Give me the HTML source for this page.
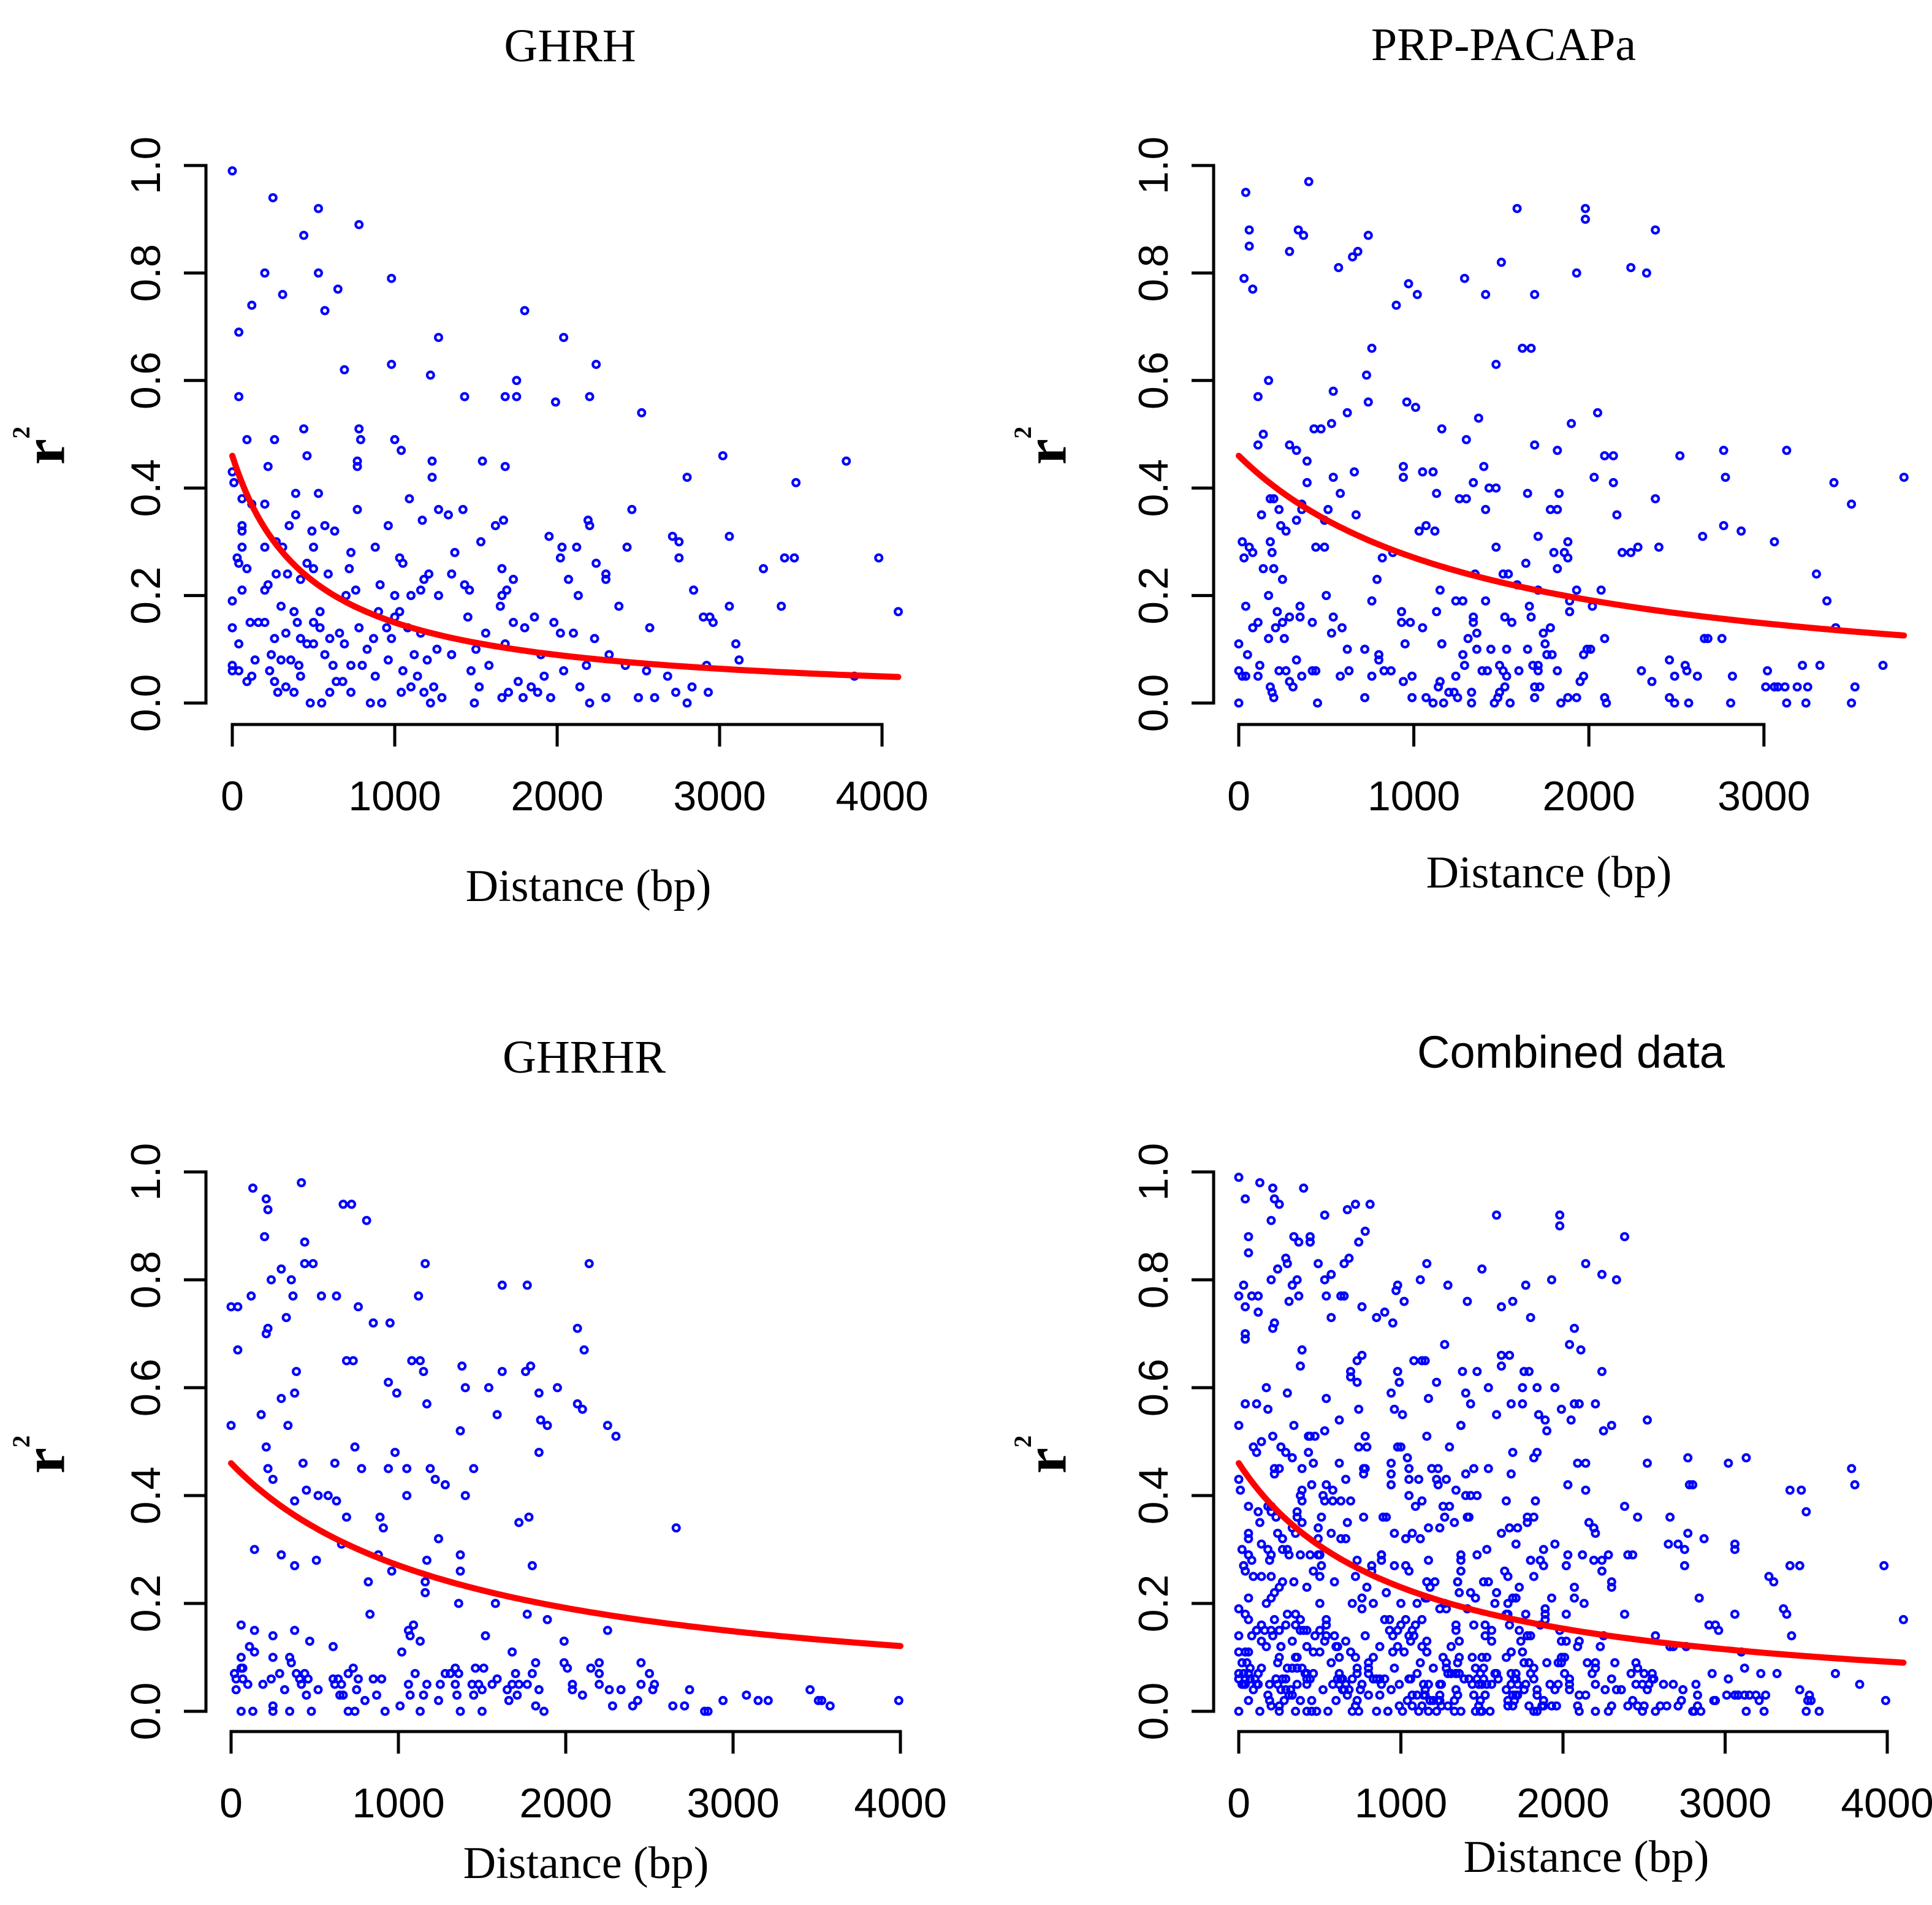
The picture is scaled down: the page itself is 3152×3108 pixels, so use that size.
<!DOCTYPE html>
<html><head><meta charset="utf-8"><style>
html,body{margin:0;padding:0;background:#fff;}
svg{display:block;}
</style></head><body>
<svg id="fig" width="3152" height="3108" viewBox="0 0 3152 3108" xmlns="http://www.w3.org/2000/svg"></svg>
<script>
// ---- data ----
const xTicksA = [0,1000,2000,3000,4000];
const xTicksB = [0,1000,2000,3000];
const yTicks = [0.0,0.2,0.4,0.6,0.8,1.0];
const yTickLabels = ["0.0","0.2","0.4","0.6","0.8","1.0"];
const titles = ["GHRH","PRP-PACAPa","GHRHR","Combined data"];
// fitted decay curve: r2 = c0 / (1 + k*d)
const curveC0 = [0.46,0.46,0.46,0.46];
const curveK = [0.00207,0.0007,0.0007,0.001];
const curveMax = [4100,3800,4000,4100];

const ghrhX = [0,250,530,780,440,200,530,980,650,310,120,570,1800,40,1270,2040,2240,980,690,1220,1750,1430,1680,1750,2200,1990,40,2520,440,780,260,90,790,1000,1040,3020,460,3780,770,1230,1540,770,1680,220,0,1230,2800,3470,10,390,530,1090,60,120,200,1270,1420,770,2460,390,1330,1670,2190,1170,60,350,490,570,630,960,1620,2200,60,2710,1950,3060,270,1530,2750,200,60,500,880,1370,2030,2120,2430,30,310,730,1030,2020,2750,3400,3460,3980,40,460,500,720,1050,2240,270,90,1660,2300,1210,340,590,1350,2300,420,1180,1730,2070,220,910,1430,1690,60,200,760,1000,1160,1460,2840,1660,2130,700,1100,1270,
0,0,40,0,0,40,110,140,120,90,160,200,240,230,260,300,260,330,300,280,330,380,400,360,410,420,420,380,460,500,500,540,540,570,600,620,640,600,480,550,660,690,680,730,730,780,800,830,850,870,880,900,920,950,960,980,1000,1030,1050,1040,1080,1100,1120,1140,1160,1180,1200,1220,1240,1260,1290,1350,1450,1470,1490,1500,1520,1560,1580,1650,1660,1680,1700,1730,1760,1790,1800,1840,1860,1880,1900,1920,1960,1980,2020,2040,2100,2140,2180,2200,2230,2300,2320,2380,2420,2500,2550,2570,2600,2680,2730,2800,2830,2900,2940,2960,2920,2930,3100,3120,3270,3380,3830,4100,3060];
const ghrhY = [0.99,0.94,0.92,0.89,0.87,0.80,0.80,0.79,0.77,0.76,0.74,0.73,0.73,0.69,0.68,0.68,0.63,0.63,0.62,0.61,0.60,0.57,0.57,0.57,0.57,0.56,0.57,0.54,0.51,0.51,0.49,0.49,0.49,0.49,0.47,0.46,0.46,0.45,0.45,0.45,0.45,0.44,0.44,0.44,0.43,0.42,0.42,0.41,0.41,0.39,0.39,0.38,0.38,0.37,0.37,0.36,0.36,0.36,0.36,0.35,0.35,0.34,0.34,0.34,0.33,0.33,0.32,0.33,0.32,0.33,0.33,0.33,0.32,0.31,0.31,0.31,0.30,0.30,0.30,0.29,0.29,0.29,0.29,0.28,0.29,0.29,0.29,0.27,0.29,0.28,0.27,0.27,0.27,0.27,0.27,0.27,0.26,0.26,0.25,0.25,0.26,0.26,0.24,0.25,0.25,0.24,0.24,0.24,0.24,0.24,0.23,0.23,0.23,0.23,0.23,0.22,0.22,0.22,0.21,0.21,0.21,0.21,0.20,0.21,0.21,0.21,0.20,0.20,0.20,0.20,0.20,
0.19,0.14,0.11,0.07,0.06,0.06,0.15,0.08,0.05,0.04,0.15,0.15,0.09,0.06,0.04,0.18,0.12,0.13,0.08,0.02,0.03,0.17,0.15,0.08,0.07,0.12,0.05,0.02,0.11,0.15,0.11,0.17,0.14,0.09,0.12,0.07,0.04,0.02,0.00,0.00,0.13,0.11,0.04,0.07,0.02,0.14,0.07,0.10,0.00,0.12,0.05,0.17,0.00,0.14,0.08,0.12,0.16,0.17,0.06,0.02,0.14,0.03,0.09,0.05,0.13,0.02,0.08,0.00,0.03,0.10,0.01,0.09,0.16,0.06,0.00,0.10,0.03,0.13,0.07,0.18,0.01,0.11,0.02,0.15,0.04,0.01,0.14,0.03,0.16,0.02,0.09,0.05,0.01,0.15,0.13,0.06,0.13,0.03,0.07,0.00,0.12,0.01,0.09,0.18,0.07,0.01,0.06,0.14,0.01,0.05,0.02,0.00,0.03,0.16,0.16,0.15,0.07,0.02,0.11,0.08,0.25,0.18,0.05,0.17,0.18];

const prpX = [40,400,1590,1980,1980,60,340,370,740,2380,60,290,680,650,570,30,1290,2240,2330,1930,80,970,1020,1410,1690,900,1500,760,1620,1670,1470,730,170,540,110,740,960,1010,620,530,430,470,2050,1160,1370,1900,1300,1690,140,110,290,330,1820,2090,2140,2520,2770,3130,390,940,940,1050,1110,1400,2030,2780,3800,3400,540,660,390,2140,1340,1430,1470,1830,1650,1260,1300,1130,180,200,360,2380,3500,230,360,510,1410,1780,1820,2160,130,330,670,490,240,1070,1120,2770,2870,1030,580,1710,2650,20,270,440,490,1470,3060,2400,2280,60,80,30,180,190,1880,2190,2240,880,1800,1860,1880,820,140,200,1820,1510,1540,1640,3300,250,790,1350,1590,1710,1150,1930,2070,2020,1890,3360,1410,1240,1280,170,500,760,40,350,220,1890,1660,1130,930,290,350,1340,1520,1670,420,540,250,80,110,210,1340,1560,930,980,590,3410,530,1360,1740,1780,170,260,1310,1160,950,1750,1440,1050,0,50,620,720,800,1160,1280,1360,1530,1650,1760,1790,1970,1990,2010,2090,2660,2680,2760,1680,1710,330,800,270,120,230,440,420,630,830,870,1290,1390,1490,1510,1600,1820,2300,2460,2550,2560,3220,3320,3680,0,20,40,110,290,310,360,580,760,940,990,1150,1240,1420,1530,1710,1950,1970,2360,2490,2620,2820,3020,1140,1200,1230,1330,1490,1520,1690,1720,3010,3060,3080,3120,3190,3250,3520,180,190,200,450,720,990,1070,1110,1170,1250,1330,1460,1480,1550,1690,1840,1880,1930,2090,2100,2460,2490,2570,2810,3130,3240,3500,0];
const prpY = [0.95,0.97,0.92,0.92,0.90,0.88,0.88,0.87,0.87,0.88,0.85,0.84,0.84,0.83,0.81,0.79,0.79,0.81,0.80,0.80,0.77,0.78,0.76,0.76,0.76,0.74,0.82,0.66,0.66,0.66,0.63,0.61,0.60,0.58,0.57,0.56,0.56,0.55,0.54,0.52,0.51,0.51,0.54,0.51,0.53,0.52,0.49,0.48,0.50,0.48,0.48,0.47,0.47,0.46,0.46,0.46,0.47,0.47,0.45,0.44,0.42,0.43,0.43,0.44,0.42,0.42,0.42,0.41,0.42,0.43,0.41,0.41,0.41,0.40,0.40,0.39,0.39,0.38,0.38,0.39,0.38,0.38,0.37,0.38,0.37,0.36,0.36,0.36,0.36,0.36,0.36,0.35,0.35,0.34,0.35,0.34,0.33,0.33,0.32,0.33,0.32,0.32,0.39,0.31,0.31,0.30,0.32,0.29,0.29,0.29,0.30,0.29,0.29,0.29,0.28,0.27,0.30,0.28,0.30,0.28,0.28,0.28,0.28,0.28,0.27,0.27,0.25,0.25,0.25,0.24,0.24,0.26,0.24,0.23,0.23,0.24,0.22,0.21,0.21,0.21,0.21,0.18,0.19,0.19,0.19,0.19,0.19,0.20,0.20,0.19,0.18,0.18,0.17,0.17,0.18,0.17,0.17,0.16,0.16,0.16,0.16,0.16,0.15,0.16,0.15,0.14,0.15,0.14,0.15,0.15,0.15,0.15,0.14,0.14,0.13,0.13,0.13,0.14,0.12,0.12,0.12,0.11,0.11,0.11,0.10,0.14,0.11,0.09,0.10,0.10,0.09,0.11,0.09,0.10,0.10,0.10,0.09,0.09,0.09,0.10,0.10,0.12,0.12,0.12,0.12,0.07,0.07,0.08,0.08,0.06,0.07,0.06,0.06,0.06,0.06,0.06,0.06,0.07,0.06,0.07,0.06,0.06,0.06,0.06,0.08,0.07,0.06,0.07,0.07,0.07,0.06,0.05,0.05,0.05,0.04,0.03,0.05,0.05,0.05,0.04,0.05,0.04,0.05,0.06,0.05,0.06,0.04,0.05,0.04,0.05,0.05,0.05,0.06,0.03,0.02,0.02,0.02,0.02,0.03,0.03,0.03,0.03,0.03,0.03,0.03,0.03,0.03,0.03,0.03,0.02,0.01,0.00,0.01,0.01,0.01,0.00,0.00,0.01,0.00,0.00,0.01,0.00,0.01,0.00,0.01,0.01,0.01,0.00,0.01,0.00,0.00,0.00,0.00,0.00,0.00,0.00,0.00];

const ghrhrX = [420,130,210,220,670,720,810,200,440,440,490,1160,2140,300,240,360,1120,120,370,540,630,0,40,760,1620,1770,330,850,950,220,2070,210,40,2110,390,690,730,1080,1130,1150,1380,1620,1760,1790,380,940,990,1400,1540,1950,1840,300,1170,2070,2100,180,1590,1850,1890,0,340,1370,2250,2300,210,740,980,1840,430,620,940,1050,780,1190,1450,220,250,1220,1280,450,580,520,1050,1400,380,630,690,890,910,1720,1780,2660,1240,660,140,300,880,1370,380,510,1170,1800,960,1370,820,1160,1160,1360,1580,830,1770,1890,60,1090,140,380,250,470,1060,1070,1520,2250,110,610,1130,1990,140,1680,1020,60,250,350,360,2450,1990,2200,20,60,70,730,1280,1340,1460,1510,1820,2150,390,410,440,460,610,640,700,1100,1310,1360,1590,1700,1800,2010,2200,2500,30,70,100,190,240,290,420,620,660,760,850,900,1060,1170,1250,1440,1480,1560,1680,1720,1770,2040,2200,2450,2530,30,320,520,750,1340,1500,1650,1840,2040,2260,2330,2520,2740,3460,650,670,870,1070,1150,1350,1450,1710,2100,3080,3150,3210,450,800,1240,1660,2430,2940,3510,3530,3990,60,130,250,250,350,480,700,740,920,1010,1130,1370,1500,1820,1870,2280,2400,2640,2710,2830,2850,3580];
const ghrhrY = [0.98,0.97,0.95,0.93,0.94,0.94,0.91,0.88,0.87,0.83,0.83,0.83,0.83,0.82,0.80,0.80,0.77,0.77,0.77,0.77,0.77,0.75,0.75,0.75,0.79,0.79,0.73,0.72,0.72,0.71,0.71,0.70,0.67,0.67,0.63,0.65,0.65,0.65,0.65,0.63,0.64,0.63,0.63,0.64,0.59,0.61,0.59,0.60,0.60,0.60,0.59,0.58,0.57,0.57,0.56,0.55,0.55,0.54,0.53,0.53,0.53,0.52,0.53,0.51,0.49,0.49,0.48,0.48,0.46,0.46,0.45,0.45,0.45,0.45,0.45,0.45,0.43,0.43,0.42,0.41,0.40,0.40,0.40,0.40,0.39,0.39,0.36,0.36,0.34,0.35,0.36,0.34,0.32,0.31,0.30,0.29,0.29,0.29,0.27,0.28,0.28,0.27,0.26,0.26,0.24,0.24,0.22,0.20,0.20,0.18,0.18,0.17,0.16,0.16,0.15,0.15,0.14,0.13,0.15,0.14,0.14,0.15,0.12,0.12,0.13,0.13,0.11,0.11,0.11,0.10,0.10,0.10,0.09,0.09,0.09,0.09,0.07,0.08,0.08,0.08,0.07,0.08,0.08,0.08,0.09,0.08,0.07,0.06,0.07,0.06,0.06,0.06,0.07,0.07,0.07,0.07,0.06,0.07,0.07,0.08,0.07,0.07,0.06,0.06,0.05,0.05,0.06,0.07,0.05,0.05,0.05,0.06,0.06,0.06,0.05,0.05,0.05,0.05,0.05,0.05,0.05,0.05,0.05,0.05,0.05,0.05,0.05,0.04,0.04,0.04,0.04,0.05,0.04,0.04,0.04,0.04,0.04,0.04,0.04,0.04,0.04,0.03,0.03,0.03,0.03,0.03,0.03,0.03,0.03,0.03,0.03,0.02,0.02,0.03,0.02,0.02,0.02,0.02,0.02,0.02,0.02,0.02,0.00,0.00,0.01,0.00,0.00,0.00,0.00,0.00,0.00,0.01,0.00,0.00,0.00,0.01,0.00,0.01,0.01,0.01,0.01,0.00,0.00,0.01];

const combinedX = ghrhX.concat(prpX, ghrhrX);
const combinedY = ghrhY.concat(prpY, ghrhrY);

// ---- layout ----
const panels = [
  {key:"ghrh", xs:ghrhX, ys:ghrhY, xTicks:xTicksA, yAxisX:336, y1:270, y0:1147, xAxisY:1182, x0:379, xPer1000:265, titleX:930, titleY:100, titleSerif:true, xlabX:960, xlabY:1470, rX:72, rY:727},
  {key:"prp-pacapa", xs:prpX, ys:prpY, xTicks:xTicksB, yAxisX:1980, y1:270, y0:1147, xAxisY:1182, x0:2021, xPer1000:285.6, titleX:2453, titleY:98, titleSerif:true, xlabX:2527, xlabY:1448, rX:1706, rY:727},
  {key:"ghrhr", xs:ghrhrX, ys:ghrhrY, xTicks:xTicksA, yAxisX:336, y1:1912, y0:2792, xAxisY:2825, x0:377, xPer1000:273, titleX:953, titleY:1750, titleSerif:true, xlabX:956, xlabY:3064, rX:72, rY:2373},
  {key:"combined", xs:combinedX, ys:combinedY, xTicks:xTicksA, yAxisX:1980, y1:1912, y0:2792, xAxisY:2825, x0:2021, xPer1000:264.5, titleX:2563, titleY:1742, titleSerif:false, xlabX:2588, xlabY:3054, rX:1706, rY:2373}
];

const NS = "http://www.w3.org/2000/svg";
const svg = document.getElementById('fig');
function mk(tag, attrs, parent){
  const e = document.createElementNS(NS, tag);
  for (const k in attrs) e.setAttribute(k, attrs[k]);
  (parent||svg).appendChild(e);
  return e;
}
const SERIF = '"Liberation Serif", serif';
const SANS = '"Liberation Sans", sans-serif';

panels.forEach((p, i) => {
  const g = mk('g', {});
  
  
  const sx = v => p.x0 + v / 1000 * p.xPer1000;
  const sy = v => p.y0 - v * (p.y0 - p.y1);

  const t = mk('text', {x:p.titleX, y:p.titleY, 'text-anchor':'middle', 'font-family': p.titleSerif ? SERIF : SANS, 'font-size': p.titleSerif ? 76 : 74, fill:'#000'}, g);
  t.textContent = titles[i];
  
  

  const ya = mk('g', {}, g);
  
  
  mk('line', {x1:p.yAxisX, y1:sy(0), x2:p.yAxisX, y2:sy(1), stroke:'#000', 'stroke-width':5, 'stroke-linecap':'square'}, ya);
  yTicks.forEach((v, j) => {
    mk('line', {x1:p.yAxisX - 36, y1:sy(v), x2:p.yAxisX, y2:sy(v), stroke:'#000', 'stroke-width':5}, ya);
    const lx = p.yAxisX - 98, ly = sy(v);
    const tl = mk('text', {x:lx, y:ly, 'text-anchor':'middle', 'dominant-baseline':'central', transform:`rotate(-90 ${lx} ${ly})`, 'font-family':SANS, 'font-size':68, fill:'#000'}, ya);
    tl.textContent = yTickLabels[j];
    
    
  });
  const rl = mk('text', {x:p.rX, y:p.rY, 'text-anchor':'middle', 'dominant-baseline':'central', transform:`rotate(-90 ${p.rX} ${p.rY})`, 'font-family':SERIF, 'font-weight':'bold', 'font-size':96, fill:'#000'}, g);
  rl.innerHTML = 'r<tspan font-size="40" dy="-38">2</tspan>';
  
  

  const xa = mk('g', {}, g);
  
  
  const xt = p.xTicks;
  mk('line', {x1:sx(xt[0]), y1:p.xAxisY, x2:sx(xt[xt.length-1]), y2:p.xAxisY, stroke:'#000', 'stroke-width':5, 'stroke-linecap':'square'}, xa);
  xt.forEach(v => {
    mk('line', {x1:sx(v), y1:p.xAxisY, x2:sx(v), y2:p.xAxisY + 36, stroke:'#000', 'stroke-width':5}, xa);
    const tl = mk('text', {x:sx(v), y:p.xAxisY + 140, 'text-anchor':'middle', 'font-family':SANS, 'font-size':68, fill:'#000'}, xa);
    tl.textContent = String(v);
    
    
  });
  const xl = mk('text', {x:p.xlabX, y:p.xlabY, 'text-anchor':'middle', 'font-family':SERIF, 'font-size':74, fill:'#000'}, g);
  xl.textContent = 'Distance (bp)';
  
  

  const pts = mk('g', {fill:'none', stroke:'#0000ff', 'stroke-width':4.2}, g);
  
  
  for (let k = 0; k < p.xs.length; k++) {
    const c = mk('circle', {cx:sx(p.xs[k]).toFixed(1), cy:sy(p.ys[k]).toFixed(1), r:5.4}, pts);
    
    
  }

  let d = '';
  for (let x = 0; x <= curveMax[i]; x += 25) {
    const y = curveC0[i] / (1 + curveK[i] * x);
    d += (x === 0 ? 'M' : 'L') + sx(x).toFixed(1) + ' ' + sy(y).toFixed(1);
  }
  const cv = mk('path', {d:d, fill:'none', stroke:'#ff0000', 'stroke-width':10, 'stroke-linecap':'round'}, g);
  
  
});
</script>
</body></html>
